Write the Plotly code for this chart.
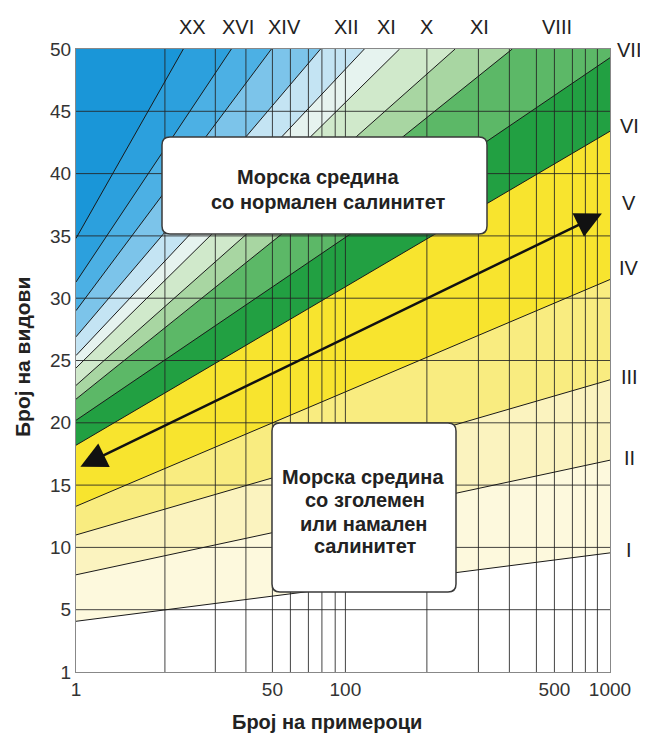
import plotly.graph_objects as go

# ---------------- data ----------------
# x axis is a warped (hand-drawn) scale: positions are 0..100 across the plot
X_GRID = [16.65, 26.09, 31.82, 36.78, 40.15, 43.52, 46.05, 48.54, 50.45,
          65.71, 75.36, 81.16, 86.22, 89.59, 92.96, 95.39, 97.64]
X_TICK_POS = [0, 36.78, 50.45, 89.59, 100]
X_TICK_TEXT = ["1", "50", "100", "500", "1000"]

Y_TICK_POS = [0, 5, 10, 15, 20, 25, 30, 35, 40, 45, 50]
Y_TICK_TEXT = ["1", "5", "10", "15", "20", "25", "30", "35", "40", "45", "50"]
Y_GRID = [5, 10, 15, 20, 25, 30, 35, 40, 45]

# iso-lines (XX ... VIII, VII, VI, IV, III, II, I): value at left edge and end point
LINE_START_Y = [34.8, 31.3, 29.0, 26.9, 25.4, 24.4, 23.0, 21.9, 20.2, 18.2, 13.3, 11.0, 7.8, 4.07]
LINE_END_X   = [20.1, 29.1, 36.6, 45.8, 54.0, 60.6, 71.0, 81.7, 100, 100, 100, 100, 100, 100]
LINE_END_Y   = [50, 50, 50, 50, 50, 50, 50, 50, 49.3, 43.4, 31.5, 23.45, 17.0, 9.56]
TOP_COLOR = "#1a96d8"
# colour of the band just below each iso-line
BAND_COLORS = ["#2ca0dd", "#4cb0e4", "#7cc4ea", "#c4e4f3", "#e6f3ef", "#d0e9cb",
               "#a8d6a2", "#5cb867", "#22a042",
               "#f8e42e", "#f9ec80", "#fbf3bf", "#fdf9dd", "#ffffff"]

TOP_LABELS = ["XX", "XVI", "XIV", "XII", "XI", "X", "XI", "VIII"]
RIGHT_LABELS = ["VII", "VI", "V", "IV", "III", "II", "I"]

ARROW_START = (0.82, 16.48)
ARROW_END = (98.76, 36.85)

BOX1_LINES = ["Морска средина", "со нормален салинитет"]
BOX2_LINES = ["Морска средина", "со зголемен", "или намален", "салинитет"]
X_TITLE = "Број на примероци"
Y_TITLE = "Број на видови"

# ---------------- layout helpers ----------------
FONT = "Liberation Sans, Arial, sans-serif"
OFF = 8                                    # page body margin
PL, PR, PT, PB = 76, 610, 49, 672          # plot area in page pixels
def px_to_x(px):
    return (px - PL) / (PR - PL) * 100
def px_to_y(py):
    return (PB - py) / (PB - PT) * 50
def pxp(px):
    return (px - PL) / (PR - PL)
def pyp(py):
    return (PB - py) / (PB - PT)

TOP_LABEL_PX = [192, 238, 284, 346, 386, 426, 479, 557]
RIGHT_LABEL_PY = [50, 126, 203, 268, 377, 458, 550]
BOX1_LINE_POS = [(318, 177), (328, 202)]
BOX2_LINE_POS = [(363, 477), (365, 500), (363, 524), (365, 546)]

fig = go.Figure()

# band fills: paint region below each iso-line, from steepest to flattest
for k, (ys, xe, ye) in enumerate(zip(LINE_START_Y, LINE_END_X, LINE_END_Y)):
    if xe < 100:
        xs = [0, xe, 100, 100, 0, 0]
        yy = [ys, 50, 50, 0, 0, ys]
    else:
        xs = [0, 100, 100, 0, 0]
        yy = [ys, ye, 0, 0, ys]
    fig.add_trace(go.Scatter(x=xs, y=yy, fill="toself", fillcolor=BAND_COLORS[k],
                             mode="none", hoverinfo="skip", showlegend=False))

# grid lines (drawn over the colour bands)
gx, gy = [], []
for v in X_GRID:
    gx += [v, v, None]
    gy += [0, 50, None]
for v in Y_GRID:
    gx += [0, 100, None]
    gy += [v, v, None]
fig.add_trace(go.Scatter(x=gx, y=gy, mode="lines",
                         line=dict(color="rgba(35,35,35,0.85)", width=1),
                         hoverinfo="skip", showlegend=False))

# iso-lines
lx, ly = [], []
for ys, xe, ye in zip(LINE_START_Y, LINE_END_X, LINE_END_Y):
    lx += [0, xe, None]
    ly += [ys, ye, None]
fig.add_trace(go.Scatter(x=lx, y=ly, mode="lines",
                         line=dict(color="#1a1a1a", width=1),
                         hoverinfo="skip", showlegend=False))

def rounded_rect(x0, y0, x1, y1, rpx=8):
    rx = rpx / (PR - PL) * 100
    ry = rpx / (PB - PT) * 50
    return (f"M{x0+rx},{y0} L{x1-rx},{y0} Q{x1},{y0} {x1},{y0+ry} "
            f"L{x1},{y1-ry} Q{x1},{y1} {x1-rx},{y1} L{x0+rx},{y1} "
            f"Q{x0},{y1} {x0},{y1-ry} L{x0},{y0+ry} Q{x0},{y0} {x0+rx},{y0} Z")

shapes = [
    dict(type="path", xref="x", yref="y", layer="above",
         path=rounded_rect(px_to_x(162), px_to_y(234), px_to_x(487), px_to_y(137)),
         fillcolor="white", line=dict(color="#3a3a3a", width=1.5)),
    dict(type="path", xref="x", yref="y", layer="above",
         path=rounded_rect(px_to_x(272), px_to_y(592), px_to_x(456), px_to_y(423)),
         fillcolor="white", line=dict(color="#3a3a3a", width=1.5)),
]

def label(px, py, text, size, **kw):
    d = dict(x=pxp(px), y=pyp(py), xref="paper", yref="paper", text=text,
             showarrow=False, xanchor="center", yanchor="middle",
             font=dict(family=FONT, size=size, color="#222"))
    d.update(kw)
    return d

annotations = [
    dict(x=ARROW_START[0], y=ARROW_START[1], ax=ARROW_END[0], ay=ARROW_END[1],
         xref="x", yref="y", axref="x", ayref="y", text="", showarrow=True,
         arrowside="end+start", arrowhead=2, startarrowhead=2,
         arrowsize=2.1, startarrowsize=2.1, arrowwidth=2.5, arrowcolor="#111"),
    label(22, 357, f"<b>{Y_TITLE}</b>", 21, textangle=-90),
    label(327, 722, f"<b>{X_TITLE}</b>", 20),
]
for t, (px, py) in zip(BOX1_LINES, BOX1_LINE_POS):
    annotations.append(label(px, py, f"<b>{t}</b>", 20))
for t, (px, py) in zip(BOX2_LINES, BOX2_LINE_POS):
    annotations.append(label(px, py, f"<b>{t}</b>", 20))
for lab, p in zip(TOP_LABELS, TOP_LABEL_PX):
    annotations.append(label(p, 27, lab, 20))
for lab, p in zip(RIGHT_LABELS, RIGHT_LABEL_PY):
    annotations.append(label(629, p, lab, 20))

W, H = 648 - OFF, 738 - OFF
fig.update_layout(
    width=W, height=H,
    margin=dict(l=PL - OFF, r=648 - PR, t=PT - OFF, b=738 - PB, pad=0),
    paper_bgcolor="white", plot_bgcolor=TOP_COLOR,
    shapes=shapes, annotations=annotations,
    showlegend=False,
    xaxis=dict(range=[0, 100], tickvals=X_TICK_POS, ticktext=X_TICK_TEXT,
               showgrid=False, zeroline=False, showline=True, mirror=True,
               linecolor="#888", linewidth=1, ticks="",
               tickfont=dict(family=FONT, size=19, color="#333")),
    yaxis=dict(range=[0, 50], tickvals=Y_TICK_POS, ticktext=Y_TICK_TEXT,
               showgrid=False, zeroline=False, showline=True, mirror=True,
               linecolor="#888", linewidth=1, ticks="",
               tickfont=dict(family=FONT, size=19, color="#333")),
)

fig.write_html("out.html")
